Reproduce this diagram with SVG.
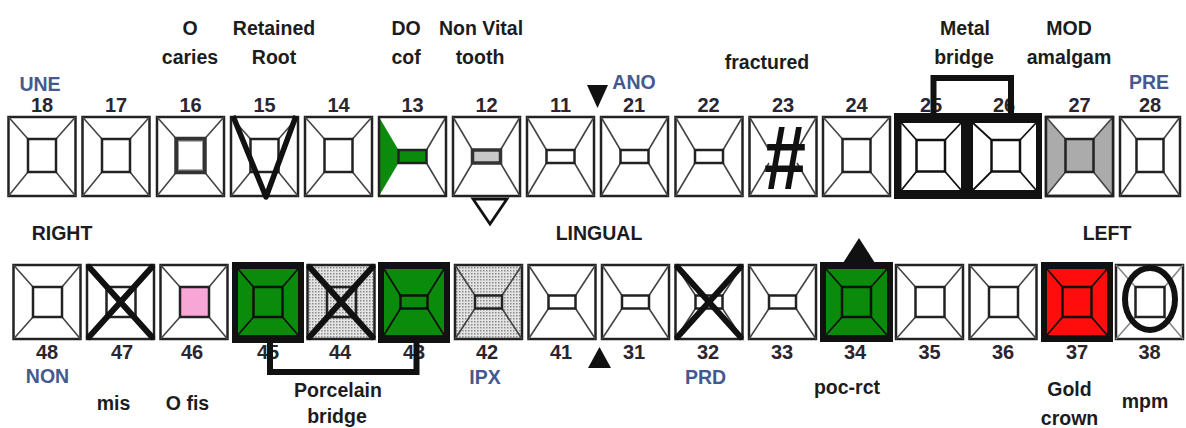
<svg xmlns="http://www.w3.org/2000/svg" width="1186" height="428" viewBox="0 0 1186 428">
<style>
.bg{fill:#fff}
.o{fill:#fff;stroke:#222;stroke-width:2.5}
.on{fill:none;stroke:#222;stroke-width:2.5}
.d{stroke:#444;stroke-width:1.6;fill:none}
.db{stroke:#111;stroke-width:1.8;fill:none}
.i{fill:#fff;stroke:#222;stroke-width:2.5}
.ib{fill:none;stroke:#111;stroke-width:2.5}
.x{stroke:#111;stroke-width:6;stroke-linecap:round;fill:none}
.frame{fill:#111}
.g{fill:#0b8b0b}
.t{font-family:"Liberation Sans",Arial,sans-serif;font-weight:bold;font-size:19.5px;fill:#1c1c1c;text-anchor:middle}
.n{font-family:"Liberation Sans",Arial,sans-serif;font-weight:bold;font-size:20px;fill:#2a2530;text-anchor:middle}
.b{font-family:"Liberation Sans",Arial,sans-serif;font-weight:bold;font-size:19.5px;fill:#44598f;text-anchor:middle}
.c{fill:none;stroke:#111;stroke-width:6}
</style>
<defs>
<pattern id="dots" patternUnits="userSpaceOnUse" width="3" height="3">
<rect width="3" height="3" fill="#e4e4e4"/>
<rect width="1.5" height="1.5" fill="#8a8a8a"/>
</pattern>
</defs>
<rect class="bg" width="1186" height="428"/>

<!-- TOP ROW -->
<g id="t18"><rect class="o" x="8.5" y="117" width="67" height="79"/><path class="d" d="M8.5 117L28 139M75.5 117L56 139M8.5 196L28 172M75.5 196L56 172"/><rect class="i" x="28" y="139" width="28" height="33"/></g>
<g id="t17"><rect class="o" x="82.5" y="117" width="67" height="79"/><path class="d" d="M82.5 117L102 139M149.5 117L130 139M82.5 196L102 172M149.5 196L130 172"/><rect class="i" x="102" y="139" width="28" height="33"/></g>
<g id="t16"><rect class="o" x="157" y="117" width="67" height="79"/><path class="d" d="M157 117L176.5 139M224 117L204.5 139M157 196L176.5 172M224 196L204.5 172"/><rect x="176.5" y="139" width="28" height="33" fill="#fff" stroke="#333" stroke-width="4.5"/><rect x="178.5" y="141" width="24" height="29" fill="none" stroke="#999" stroke-width="1"/></g>
<g id="t15"><rect class="o" x="231" y="117" width="67" height="79"/><path class="d" d="M231 117L250.5 139M298 117L278.5 139M231 196L250.5 172M298 196L278.5 172"/><rect class="i" x="250.5" y="139" width="28" height="33"/><polyline points="233,116 266,197 296,116" fill="none" stroke="#111" stroke-width="5.5" stroke-linejoin="round"/></g>
<g id="t14"><rect class="o" x="305" y="117" width="67" height="79"/><path class="d" d="M305 117L324.5 139M372 117L352.5 139M305 196L324.5 172M372 196L352.5 172"/><rect class="i" x="324.5" y="139" width="28" height="33"/></g>
<g id="t13"><rect class="bg" x="379" y="117" width="67" height="79"/><polygon class="g" points="379,117 398.5,150 398.5,163 379,196"/><path class="d" d="M446 117L426.5 150M446 196L426.5 163"/><rect x="398.5" y="150" width="28" height="13" fill="#0b8b0b" stroke="#222" stroke-width="2.5"/><rect class="on" x="379" y="117" width="67" height="79"/></g>
<g id="t12"><rect class="o" x="453" y="117" width="67" height="79"/><path class="d" d="M453 117L472.5 150M520 117L500.5 150M453 196L472.5 163M520 196L500.5 163"/><rect x="472.5" y="150" width="28" height="13" fill="#c8c8c8" stroke="#333" stroke-width="3.5"/><polygon points="473,199 507,199 490,224" fill="#fff" stroke="#111" stroke-width="2.8" stroke-linejoin="miter"/></g>
<g id="t11"><rect class="o" x="527" y="117" width="67" height="79"/><path class="d" d="M527 117L546.5 150M594 117L574.5 150M527 196L546.5 163M594 196L574.5 163"/><rect class="i" x="546.5" y="150" width="28" height="13"/></g>
<g id="t21"><rect class="o" x="601" y="117" width="67" height="79"/><path class="d" d="M601 117L620.5 150M668 117L648.5 150M601 196L620.5 163M668 196L648.5 163"/><rect class="i" x="620.5" y="150" width="28" height="13"/></g>
<g id="t22"><rect class="o" x="675.5" y="117" width="67" height="79"/><path class="d" d="M675.5 117L695 150M742.5 117L723 150M675.5 196L695 163M742.5 196L723 163"/><rect class="i" x="695" y="150" width="28" height="13"/></g>
<g id="t23"><rect class="o" x="749.5" y="117" width="67" height="79"/><path class="d" d="M749.5 117L769 150M816.5 117L797 150M749.5 196L769 163M816.5 196L797 163"/><text transform="translate(785,189) scale(0.84,1)" x="0" y="0" font-family="Liberation Sans, Arial, sans-serif" font-weight="bold" font-size="90" fill="#111" text-anchor="middle">#</text></g>
<g id="t24"><rect class="o" x="823" y="117" width="67" height="79"/><path class="d" d="M823 117L842.5 139M890 117L870.5 139M823 196L842.5 172M890 196L870.5 172"/><rect class="i" x="842.5" y="139" width="28" height="33"/></g>
<g id="t25-26">
<rect class="frame" x="894" y="113" width="148" height="86"/>
<rect class="bg" x="901.5" y="123" width="59.5" height="67"/>
<path class="db" d="M901.5 123L916.5 140M961 123L945 140M901.5 190L916.5 171.5M961 190L945 171.5"/>
<rect class="ib" x="916.5" y="140" width="28.5" height="31.5"/>
<rect class="bg" x="973" y="123" width="63" height="67"/>
<path class="db" d="M973 123L991.5 140M1036 123L1020 140M973 190L991.5 171.5M1036 190L1020 171.5"/>
<rect class="ib" x="991.5" y="140" width="28.5" height="31.5"/>
</g>
<g id="t27"><rect class="o" x="1046" y="117" width="67" height="79"/><polygon fill="#ababab" points="1046,117 1065.5,139 1065.5,172 1046,196"/><polygon fill="#ababab" points="1113,117 1093.5,139 1093.5,172 1113,196"/><path class="d" d="M1046 117L1065.5 139M1113 117L1093.5 139M1046 196L1065.5 172M1113 196L1093.5 172"/><rect x="1065.5" y="139" width="28" height="33" fill="#ababab" stroke="#222" stroke-width="2.5"/><rect class="on" x="1046" y="117" width="67" height="79"/></g>
<g id="t28"><rect class="o" x="1120" y="117" width="60" height="79"/><path class="d" d="M1120 117L1136.5 139M1180 117L1163.5 139M1120 196L1136.5 172M1180 196L1163.5 172"/><rect class="i" x="1136.5" y="139" width="27" height="33"/></g>

<!-- BOTTOM ROW -->
<g id="t48"><rect class="o" x="13.5" y="265" width="67" height="74"/><path class="d" d="M13.5 265L33 287M80.5 265L62 287M13.5 339L33 317M80.5 339L62 317"/><rect class="i" x="33" y="287" width="29" height="30"/></g>
<g id="t47"><rect class="o" x="87" y="265" width="67" height="74"/><path class="d" d="M87 265L106.5 287M154 265L135.5 287M87 339L106.5 317M154 339L135.5 317"/><rect class="i" x="106.5" y="287" width="29" height="30"/><path class="x" d="M89 267L152 337M152 267L89 337"/></g>
<g id="t46"><rect class="o" x="160.5" y="265" width="67" height="74"/><path class="d" d="M160.5 265L180 287M227.5 265L209 287M160.5 339L180 317M227.5 339L209 317"/><rect x="180" y="287" width="29" height="30" fill="#f7a6d6" stroke="#222" stroke-width="2.5"/></g>
<g id="t45"><rect class="frame" x="232" y="262" width="72" height="81"/><rect class="g" x="238" y="269" width="60" height="66"/><path class="db" d="M238 269L253.5 287M298 269L282.5 287M238 335L253.5 317M298 335L282.5 317"/><rect class="ib" x="253.5" y="287" width="29" height="30"/></g>
<g id="t44"><rect x="307.5" y="265" width="67" height="74" fill="url(#dots)" stroke="#222" stroke-width="2.5"/><path class="d" d="M307.5 265L327 287M374.5 265L356 287M307.5 339L327 317M374.5 339L356 317"/><rect x="327" y="287" width="29" height="30" fill="none" stroke="#222" stroke-width="2.5"/><path class="x" d="M309.5 267L372.5 337M372.5 267L309.5 337"/></g>
<g id="t43"><rect class="frame" x="378" y="262" width="72" height="81"/><rect class="g" x="384" y="269" width="60" height="66"/><path class="db" d="M384 269L400.5 295.5M444 269L427.5 295.5M384 335L400.5 308.5M444 335L427.5 308.5"/><rect class="ib" x="400.5" y="295.5" width="27" height="13"/></g>
<g id="t42"><rect x="455" y="265" width="67" height="74" fill="url(#dots)" stroke="#222" stroke-width="2.5"/><path class="d" d="M455 265L475 295.5M522 265L502 295.5M455 339L475 308.5M522 339L502 308.5"/><rect x="475" y="295.5" width="27" height="13" fill="none" stroke="#222" stroke-width="2.5"/></g>
<g id="t41"><rect class="o" x="528.5" y="265" width="67" height="74"/><path class="d" d="M528.5 265L548.5 295.5M595.5 265L575.5 295.5M528.5 339L548.5 308.5M595.5 339L575.5 308.5"/><rect class="i" x="548.5" y="295.5" width="27" height="13"/></g>
<g id="t31"><rect class="o" x="602" y="265" width="67" height="74"/><path class="d" d="M602 265L622 295.5M669 265L649 295.5M602 339L622 308.5M669 339L649 308.5"/><rect class="i" x="622" y="295.5" width="27" height="13"/></g>
<g id="t32"><rect class="o" x="675.5" y="265" width="67" height="74"/><path class="d" d="M675.5 265L695.5 295.5M742.5 265L722.5 295.5M675.5 339L695.5 308.5M742.5 339L722.5 308.5"/><rect class="i" x="695.5" y="295.5" width="27" height="13"/><path class="x" d="M677.5 267L740.5 337M740.5 267L677.5 337"/></g>
<g id="t33"><rect class="o" x="749" y="265" width="67" height="74"/><path class="d" d="M749 265L769 295.5M816 265L796 295.5M749 339L769 308.5M816 339L796 308.5"/><rect class="i" x="769" y="295.5" width="27" height="13"/></g>
<g id="t34"><rect class="frame" x="820" y="262" width="73" height="80"/><rect class="g" x="826" y="269" width="61" height="66"/><path class="db" d="M826 269L842 287M887 269L871 287M826 335L842 317M887 335L871 317"/><rect class="ib" x="842" y="287" width="29" height="30"/><polygon points="843,263 875,263 859,238" fill="#111"/></g>
<g id="t35"><rect class="o" x="896" y="265" width="67" height="74"/><path class="d" d="M896 265L915.5 287M963 265L944.5 287M896 339L915.5 317M963 339L944.5 317"/><rect class="i" x="915.5" y="287" width="29" height="30"/></g>
<g id="t36"><rect class="o" x="969.5" y="265" width="67" height="74"/><path class="d" d="M969.5 265L989 287M1036.5 265L1018 287M969.5 339L989 317M1036.5 339L1018 317"/><rect class="i" x="989" y="287" width="29" height="30"/></g>
<g id="t37"><rect class="frame" x="1041" y="262" width="72" height="80"/><rect x="1047" y="269" width="60" height="66" fill="#ff0c0c"/><path class="db" d="M1047 269L1062.5 287M1107 269L1091.5 287M1047 335L1062.5 317M1107 335L1091.5 317"/><rect class="ib" x="1062.5" y="287" width="29" height="30"/></g>
<g id="t38"><rect class="o" x="1116" y="265" width="67" height="74"/><path d="M1116 265L1135.5 287M1183 265L1164.5 287M1116 339L1135.5 317M1183 339L1164.5 317" stroke="#888" stroke-width="1.6"/><rect class="i" x="1135.5" y="287" width="29" height="30"/><ellipse cx="1150" cy="299" rx="25" ry="31" fill="none" stroke="#111" stroke-width="6"/></g>

<!-- markers -->
<g id="markers">
<polygon points="587,85 608,85 597.5,108" fill="#111"/>
<polygon points="588,368 611,368 599.5,347" fill="#111"/>
</g>

<!-- LABELS -->
<g id="labels">
<text class="t" x="190" y="35">O</text><text class="t" x="190" y="64">caries</text>
<text class="t" x="274" y="35">Retained</text><text class="t" x="274" y="64">Root</text>
<text class="t" x="406" y="35">DO</text><text class="t" x="406" y="64">cof</text>
<text class="t" x="481" y="35">Non Vital</text><text class="t" x="480" y="64">tooth</text>
<text class="t" x="767" y="69">fractured</text>
<text class="t" x="965" y="35">Metal</text><text class="t" x="964" y="64">bridge</text>
<text class="t" x="1069" y="35">MOD</text><text class="t" x="1069" y="64">amalgam</text>
<text class="b" x="40" y="91">UNE</text>
<text class="b" x="634" y="89">ANO</text>
<text class="b" x="1149" y="89">PRE</text>
<text class="n" x="42" y="112">18</text><text class="n" x="116" y="112">17</text><text class="n" x="190.5" y="112">16</text><text class="n" x="264.5" y="112">15</text><text class="n" x="338.5" y="112">14</text><text class="n" x="412.5" y="112">13</text><text class="n" x="486.5" y="112">12</text><text class="n" x="560.5" y="112">11</text><text class="n" x="634" y="112">21</text><text class="n" x="708.5" y="112">22</text><text class="n" x="783" y="112">23</text><text class="n" x="856.5" y="112">24</text><text class="n" x="931" y="112">25</text><text class="n" x="1004" y="112">26</text><text class="n" x="1079.5" y="112">27</text><text class="n" x="1150" y="112">28</text>
<text class="t" x="62" y="240">RIGHT</text>
<text class="t" x="599" y="240">LINGUAL</text>
<text class="t" x="1107" y="240">LEFT</text>
<text class="n" x="47" y="359">48</text><text class="n" x="122" y="359">47</text><text class="n" x="192" y="359">46</text><text class="n" x="268" y="359">45</text><text class="n" x="340" y="359">44</text><text class="n" x="414" y="359">43</text><text class="n" x="487" y="359">42</text><text class="n" x="561" y="359">41</text><text class="n" x="634" y="359">31</text><text class="n" x="708" y="359">32</text><text class="n" x="782" y="359">33</text><text class="n" x="855" y="359">34</text><text class="n" x="929.5" y="359">35</text><text class="n" x="1003" y="359">36</text><text class="n" x="1077" y="359">37</text><text class="n" x="1149.5" y="359">38</text>
<text class="b" x="47.5" y="383">NON</text>
<text class="b" x="485" y="384">IPX</text>
<text class="b" x="705.5" y="384">PRD</text>
<text class="t" x="113.5" y="410">mis</text>
<text class="t" x="187.5" y="410">O fis</text>
<text class="t" x="338" y="397">Porcelain</text><text class="t" x="337" y="423">bridge</text>
<text class="t" x="847" y="394">poc-rct</text>
<text class="t" x="1069.5" y="396">Gold</text><text class="t" x="1069.5" y="425">crown</text>
<text class="t" x="1145" y="408">mpm</text>
</g>

<!-- CONNECTORS -->
<g id="connectors">
<polyline class="c" points="933.5,114 933.5,78 1011,78 1011,114"/>
<polyline class="c" points="270,342 270,372 416.5,372 416.5,342"/>
</g>
</svg>
